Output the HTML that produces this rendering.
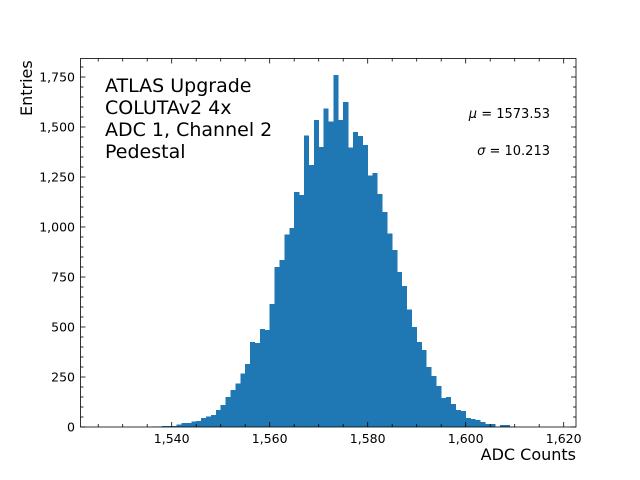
<!DOCTYPE html>
<html><head><meta charset="utf-8"><style>
body{margin:0;background:#fff}
svg{display:block;font-family:"DejaVu Sans","Liberation Sans",sans-serif}
</style></head><body>
<svg id="s" width="640" height="480" viewBox="0 0 640 480">
<rect width="640" height="480" fill="#fff"/>
<g id="bars" fill="#1f77b4" shape-rendering="crispEdges"></g>
<g id="ticks" stroke="#000" stroke-width="0.8"></g>
<rect x="80.5" y="58.5" width="495.5" height="368.5" fill="none" stroke="#000" stroke-width="0.8"/>
<g font-size="12.5" text-anchor="middle" fill="#000">
<text x="171.7" y="443">1,540</text>
<text x="269.7" y="443">1,560</text>
<text x="367.7" y="443">1,580</text>
<text x="465.7" y="443">1,600</text>
<text x="563.7" y="443">1,620</text>
</g>
<g font-size="12.5" text-anchor="end" fill="#000">
<text x="75" y="431.5">0</text>
<text x="75" y="381.5">250</text>
<text x="75" y="331.5">500</text>
<text x="75" y="281.5">750</text>
<text x="75" y="231.5">1,000</text>
<text x="75" y="181.5">1,250</text>
<text x="75" y="131.5">1,500</text>
<text x="75" y="81.5">1,750</text>
</g>
<text x="576" y="460" font-size="16" text-anchor="end">ADC Counts</text>
<text transform="translate(32,116) rotate(-90)" font-size="16" text-anchor="start">Entries</text>
<g font-size="19" fill="#000">
<text x="105" y="92">ATLAS Upgrade</text>
<text x="105" y="114">COLUTAv2 4x</text>
<text x="105" y="136">ADC 1, Channel 2</text>
<text x="105" y="158">Pedestal</text>
</g>
<g font-size="13" text-anchor="end">
<text x="550" y="118"><tspan font-style="italic">μ</tspan> = 1573.53</text>
<text x="550" y="155"><tspan font-style="italic">σ</tspan> = 10.213</text>
</g>
</svg>
<script>
var d={1536:2,1537:3,1538:5,1539:5,1540:5,1541:13,1542:20,1543:20,1544:27,1545:29,1546:45,1547:52,1548:60,1549:85,1550:110,1551:150,1552:185,1553:217,1554:268,1555:315,1556:425,1557:420,1558:490,1559:485,1560:615,1561:800,1562:835,1563:962,1564:995,1565:1175,1566:1160,1567:1458,1568:1310,1569:1535,1570:1400,1571:1593,1572:1527,1573:1760,1574:1535,1575:1625,1576:1397,1577:1475,1578:1455,1579:1410,1580:1257,1581:1270,1582:1165,1583:1075,1584:967,1585:885,1586:775,1587:705,1588:587,1589:500,1590:425,1591:385,1592:300,1593:255,1594:205,1595:145,1596:150,1597:115,1598:85,1599:80,1600:45,1601:40,1602:35,1603:25,1604:15,1605:15,1606:3,1607:10,1608:10,1609:2};
var ns="http://www.w3.org/2000/svg",b=document.getElementById('bars'),t=document.getElementById('ticks');
function X(v){return 171.7+(v-1540)*4.9}
function Y(c){return 427-c*0.2}
for(var k in d){var r=document.createElementNS(ns,'rect');var x=X(+k);r.setAttribute('x',x);r.setAttribute('width',5.05);r.setAttribute('y',Y(d[k]));r.setAttribute('height',d[k]*0.2);b.appendChild(r);}
function L(x1,y1,x2,y2){var l=document.createElementNS(ns,'line');l.setAttribute('x1',x1);l.setAttribute('y1',y1);l.setAttribute('x2',x2);l.setAttribute('y2',y2);t.appendChild(l);}
for(var v=1525;v<=1620;v+=5){var x=X(v);if(x<80||x>576)continue;var len=(v%20==0)?5:3;L(x,427,x,427-len);L(x,58.5,x,58.5+len);}
for(var c=0;c<=1800;c+=50){var y=Y(c);if(y<58)continue;var len=(c%250==0)?5:3;L(80.5,y,80.5+len,y);L(576,y,576-len,y);}
</script>
</body></html>
